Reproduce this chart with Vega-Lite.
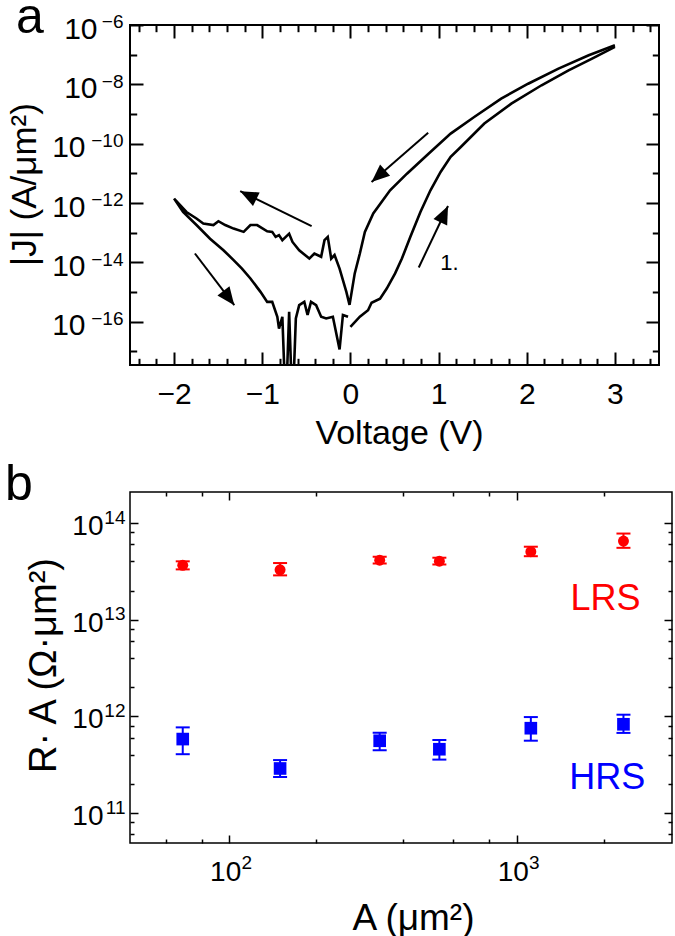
{
  "$schema": "https://vega.github.io/schema/vega-lite/v6.json",
  "background": "white",
  "padding": {"left": 4, "top": -9, "right": 0, "bottom": 0},
  "config": {
    "font": "Liberation Sans",
    "view": {"stroke": "black", "strokeWidth": 2},
    "axis": {"labelFont": "Liberation Sans", "titleFont": "Liberation Sans", "labelColor": "black", "titleColor": "black", "tickColor": "black", "domain": false, "grid": false, "titleFontWeight": "normal", "labelFlush": false, "labelOverlap": false},
    "title": {"font": "Liberation Sans", "fontWeight": "normal", "color": "black"},
    "concat": {"spacing": 8}
  },
  "datasets": {
    "curves": [
      {"b":"F","i":0,"V":0.0,"J":6.76e-17},{"b":"F","i":1,"V":0.107,"J":1.48e-16},{"b":"F","i":2,"V":0.2,"J":2.45e-16},{"b":"F","i":3,"V":0.24,"J":4.37e-16},{"b":"F","i":4,"V":0.336,"J":6.03e-16},{"b":"F","i":5,"V":0.412,"J":1.32e-15},{"b":"F","i":6,"V":0.507,"J":4.27e-15},{"b":"F","i":7,"V":0.584,"J":1.35e-14},{"b":"F","i":8,"V":0.679,"J":7.24e-14},{"b":"F","i":9,"V":0.794,"J":5.01e-13},{"b":"F","i":10,"V":0.908,"J":2.69e-12},{"b":"F","i":11,"V":1.023,"J":1.12e-11},{"b":"F","i":12,"V":1.137,"J":3.63e-11},{"b":"F","i":13,"V":1.252,"J":7.76e-11},{"b":"F","i":14,"V":1.519,"J":4.79e-10},{"b":"F","i":15,"V":1.825,"J":2.24e-9},{"b":"F","i":16,"V":2.168,"J":9.33e-9},{"b":"F","i":17,"V":2.474,"J":2.95e-8},{"b":"F","i":18,"V":2.741,"J":7.41e-8},{"b":"F","i":19,"V":3.0,"J":1.82e-7},
      {"b":"R","i":0,"V":3.0,"J":2.09e-7},{"b":"R","i":1,"V":2.703,"J":9.55e-8},{"b":"R","i":2,"V":2.36,"J":3.39e-8},{"b":"R","i":3,"V":2.016,"J":1.05e-8},{"b":"R","i":4,"V":1.71,"J":3.31e-9},{"b":"R","i":5,"V":1.404,"J":7.94e-10},{"b":"R","i":6,"V":1.137,"J":2.19e-10},{"b":"R","i":7,"V":0.889,"J":4.68e-11},{"b":"R","i":8,"V":0.641,"J":9.77e-12},{"b":"R","i":9,"V":0.45,"J":2.69e-12},{"b":"R","i":10,"V":0.259,"J":4.47e-13},{"b":"R","i":11,"V":0.164,"J":1.07e-13},{"b":"R","i":12,"V":0.107,"J":2.0e-14},{"b":"R","i":13,"V":0.049,"J":4.27e-15},{"b":"R","i":14,"V":-0.01,"J":3.72e-16},
      {"b":"R","i":15,"V":-0.046,"J":1.02e-15},{"b":"R","i":16,"V":-0.123,"J":6.17e-15},{"b":"R","i":17,"V":-0.18,"J":1.78e-14},{"b":"R","i":18,"V":-0.218,"J":1.35e-14},{"b":"R","i":19,"V":-0.257,"J":7.24e-14},{"b":"R","i":20,"V":-0.294,"J":5.62e-14},{"b":"R","i":21,"V":-0.332,"J":1.55e-14},{"b":"R","i":22,"V":-0.409,"J":2.0e-14},{"b":"R","i":23,"V":-0.466,"J":1.35e-14},{"b":"R","i":24,"V":-0.581,"J":2.57e-14},{"b":"R","i":25,"V":-0.657,"J":4.9e-14},{"b":"R","i":26,"V":-0.695,"J":9.33e-14},{"b":"R","i":27,"V":-0.772,"J":5.62e-14},{"b":"R","i":28,"V":-0.81,"J":8.32e-14},{"b":"R","i":29,"V":-0.848,"J":7.24e-14},{"b":"R","i":30,"V":-0.887,"J":1.07e-13},{"b":"R","i":31,"V":-0.944,"J":1.12e-13},{"b":"R","i":32,"V":-1.058,"J":1.82e-13},{"b":"R","i":33,"V":-1.134,"J":1.82e-13},{"b":"R","i":34,"V":-1.211,"J":1.07e-13},{"b":"R","i":35,"V":-1.325,"J":1.38e-13},{"b":"R","i":36,"V":-1.42,"J":1.82e-13},{"b":"R","i":37,"V":-1.497,"J":2.45e-13},{"b":"R","i":38,"V":-1.554,"J":1.82e-13},{"b":"R","i":39,"V":-1.669,"J":2.04e-13},{"b":"R","i":40,"V":-1.746,"J":3.02e-13},{"b":"R","i":41,"V":-1.86,"J":5.01e-13},{"b":"R","i":42,"V":-2.0,"J":1.41e-12},
      {"b":"R","i":43,"V":-1.898,"J":5.01e-13},{"b":"R","i":44,"V":-1.746,"J":1.82e-13},{"b":"R","i":45,"V":-1.592,"J":6.31e-14},{"b":"R","i":46,"V":-1.44,"J":2.57e-14},{"b":"R","i":47,"V":-1.325,"J":1.2e-14},{"b":"R","i":48,"V":-1.23,"J":6.17e-15},{"b":"R","i":49,"V":-1.134,"J":2.88e-15},{"b":"R","i":50,"V":-1.02,"J":1.02e-15},{"b":"R","i":51,"V":-0.944,"J":4.68e-16},{"b":"R","i":52,"V":-0.887,"J":4.68e-16},{"b":"R","i":53,"V":-0.829,"J":1.48e-16},{"b":"R","i":54,"V":-0.81,"J":5.89e-17},{"b":"R","i":55,"V":-0.772,"J":1.48e-16},{"b":"R","i":56,"V":-0.733,"J":1e-19},{"b":"R","i":57,"V":-0.695,"J":2.19e-16},{"b":"R","i":58,"V":-0.657,"J":1e-19},{"b":"R","i":59,"V":-0.619,"J":1.29e-16},{"b":"R","i":60,"V":-0.581,"J":3.63e-16},{"b":"R","i":61,"V":-0.523,"J":4.68e-16},{"b":"R","i":62,"V":-0.486,"J":1.7e-16},{"b":"R","i":63,"V":-0.447,"J":4.68e-16},{"b":"R","i":64,"V":-0.389,"J":3.63e-16},{"b":"R","i":65,"V":-0.332,"J":1.48e-16},{"b":"R","i":66,"V":-0.275,"J":1.29e-16},{"b":"R","i":67,"V":-0.199,"J":1.48e-16},{"b":"R","i":68,"V":-0.123,"J":1.17e-17},{"b":"R","i":69,"V":-0.085,"J":1.7e-16},{"b":"R","i":70,"V":-0.027,"J":1.48e-16}
    ],
    "arrows": [
      {"V1":-0.44,"J1":1.66e-13,"V2":-1.25,"J2":2.51e-12,"angle":296.4},
      {"V1":-1.764,"J1":2.0e-14,"V2":-1.317,"J2":3.63e-16,"angle":142.9},
      {"V1":0.882,"J1":2.34e-10,"V2":0.24,"J2":5.13e-12,"angle":228.6},
      {"V1":0.775,"J1":6.76e-15,"V2":1.107,"J2":7.94e-13,"angle":25.3}
    ],
    "ra": [
      {"state":"LRS","A":68.8,"RA":3.65e13,"lo":3.31e13,"hi":4.01e13},
      {"state":"LRS","A":150,"RA":3.28e13,"lo":2.87e13,"hi":3.85e13},
      {"state":"LRS","A":333,"RA":4.12e13,"lo":3.8e13,"hi":4.47e13},
      {"state":"LRS","A":537,"RA":4.02e13,"lo":3.72e13,"hi":4.37e13},
      {"state":"LRS","A":1117,"RA":5.04e13,"lo":4.53e13,"hi":5.68e13},
      {"state":"LRS","A":2345,"RA":6.5e13,"lo":5.53e13,"hi":7.77e13},
      {"state":"HRS","A":68.8,"RA":5.82e11,"lo":4.06e11,"hi":7.69e11},
      {"state":"HRS","A":150,"RA":2.89e11,"lo":2.36e11,"hi":3.53e11},
      {"state":"HRS","A":333,"RA":5.59e11,"lo":4.46e11,"hi":6.76e11},
      {"state":"HRS","A":537,"RA":4.57e11,"lo":3.57e11,"hi":5.69e11},
      {"state":"HRS","A":1117,"RA":7.54e11,"lo":5.6e11,"hi":9.83e11},
      {"state":"HRS","A":2345,"RA":8.28e11,"lo":6.74e11,"hi":1.04e12}
    ],
    "ralabels": [
      {"state":"LRS","A":1535,"RA":1.25e13},
      {"state":"HRS","A":1519,"RA":1.77e11}
    ]
  },
  "vconcat": [
    {
      "width": 529,
      "height": 340,
      "title": {"text": "a", "anchor": "start", "frame": "group", "fontSize": 50, "baseline": "alphabetic", "offset": -70, "dx": -114},
      "resolve": {"axis": {"x": "independent", "y": "independent"}},
      "layer": [
        {
          "data": {"name": "curves"},
          "transform": [{"filter": "datum.b == 'R'"}],
          "mark": {"type": "line", "color": "black", "strokeWidth": 2.6, "clip": true},
          "encoding": {
            "x": {"field": "V", "type": "quantitative", "scale": {"domain": [-2.5, 3.5], "nice": false, "zero": false},
              "axis": {"orient": "bottom", "values": [-2, -1, 0, 1, 2, 3], "tickSize": -13, "tickWidth": 2, "labelPadding": 27, "labelFontSize": 30, "title": "Voltage (V)", "titleFontSize": 34, "titleX": 269, "titleY": 78, "titleBaseline": "alphabetic", "titleAlign": "center"}},
            "y": {"field": "J", "type": "quantitative", "scale": {"type": "log", "domain": [3.5e-18, 1e-6], "nice": false},
              "axis": {"orient": "left", "values": [1e-16, 1e-14, 1e-12, 1e-10, 1e-8, 1e-6], "labelExpr": "'10'", "labelAlign": "right", "labelOffset": 4, "labelPadding": {"condition": {"test": "datum.value < 1e-9", "value": 58}, "value": 46}, "tickSize": -13, "tickWidth": 2, "labelFontSize": 30, "title": "|J| (A/μm²)", "titleFontSize": 35, "titleX": -95, "titleY": 159, "titleAngle": 270, "titleBaseline": "alphabetic", "titleAlign": "center"}},
            "detail": {"field": "b"},
            "order": {"field": "i", "type": "quantitative"}
          }
        },
        {
          "data": {"name": "arrows"},
          "mark": {"type": "rule", "color": "black", "strokeWidth": 2},
          "encoding": {
            "x": {"field": "V1", "type": "quantitative", "scale": {"domain": [-2.5, 3.5], "nice": false, "zero": false},
              "axis": {"orient": "bottom", "values": [-2.4, -2.2, -1.8, -1.6, -1.4, -1.2, -0.8, -0.6, -0.4, -0.2, 0.2, 0.4, 0.6, 0.8, 1.2, 1.4, 1.6, 1.8, 2.2, 2.4, 2.6, 2.8, 3.2, 3.4], "tickSize": -6.7, "tickWidth": 2, "labels": false, "title": null}},
            "y": {"field": "J1", "type": "quantitative", "scale": {"type": "log", "domain": [3.5e-18, 1e-6], "nice": false},
              "axis": {"orient": "left", "values": [1e-17, 1e-15, 1e-13, 1e-11, 1e-9, 1e-7], "tickSize": -6.7, "tickWidth": 2, "labels": false, "title": null}},
            "x2": {"field": "V2"},
            "y2": {"field": "J2"}
          }
        },
        {
          "data": {"name": "arrows"},
          "mark": {"type": "point", "shape": "M0,0 L0.42,1 L-0.42,1 Z", "filled": true, "color": "black", "opacity": 1, "size": 1296, "strokeWidth": 0},
          "encoding": {
            "x": {"field": "V2", "type": "quantitative", "scale": {"domain": [-2.5, 3.5], "nice": false, "zero": false},
              "axis": {"orient": "top", "values": [-2, -1, 0, 1, 2, 3], "tickSize": -13, "tickWidth": 2, "labels": false, "title": null}},
            "y": {"field": "J2", "type": "quantitative", "scale": {"type": "log", "domain": [3.5e-18, 1e-6], "nice": false},
              "axis": {"orient": "right", "values": [1e-16, 1e-14, 1e-12, 1e-10, 1e-8, 1e-6], "tickSize": -13, "tickWidth": 2, "labels": false, "title": null}},
            "angle": {"field": "angle", "type": "quantitative", "scale": null}
          }
        },
        {
          "data": {"values": [{"V": 1.02, "J": 5.5e-15, "t": "1."}]},
          "mark": {"type": "text", "fontSize": 22, "align": "left", "baseline": "alphabetic", "color": "black", "font": "Liberation Sans"},
          "encoding": {
            "x": {"field": "V", "type": "quantitative", "scale": {"domain": [-2.5, 3.5], "nice": false, "zero": false},
              "axis": {"orient": "top", "values": [-2.4, -2.2, -1.8, -1.6, -1.4, -1.2, -0.8, -0.6, -0.4, -0.2, 0.2, 0.4, 0.6, 0.8, 1.2, 1.4, 1.6, 1.8, 2.2, 2.4, 2.6, 2.8, 3.2, 3.4], "tickSize": -6.7, "tickWidth": 2, "labels": false, "title": null}},
            "y": {"field": "J", "type": "quantitative", "scale": {"type": "log", "domain": [3.5e-18, 1e-6], "nice": false},
              "axis": {"orient": "right", "values": [1e-17, 1e-15, 1e-13, 1e-11, 1e-9, 1e-7], "tickSize": -6.7, "tickWidth": 2, "labels": false, "title": null}},
            "text": {"field": "t"}
          }
        },
        {
          "data": {"name": "curves"},
          "transform": [{"filter": "datum.b == 'F'"}],
          "mark": {"type": "line", "color": "black", "strokeWidth": 2.6, "clip": true},
          "encoding": {
            "x": {"field": "V", "type": "quantitative", "scale": {"domain": [-2.5, 3.5], "nice": false, "zero": false}, "axis": null},
            "y": {"field": "J", "type": "quantitative", "scale": {"type": "log", "domain": [3.5e-18, 1e-6], "nice": false},
              "axis": {"orient": "left", "values": [1e-16, 1e-14, 1e-12, 1e-10, 1e-8, 1e-6], "labelExpr": "datum.value < 1e-15 ? '−16' : datum.value < 1e-13 ? '−14' : datum.value < 1e-11 ? '−12' : datum.value < 1e-9 ? '−10' : datum.value < 1e-7 ? '−8' : '−6'", "labelAlign": "right", "labelOffset": -3.3, "labelPadding": 20, "tickSize": -13, "tickOpacity": 0, "labelFontSize": 19, "title": null}},
            "order": {"field": "i", "type": "quantitative"}
          }
        }
      ]
    },
    {
      "width": 542,
      "height": 351,
      "view": {"stroke": "black", "strokeWidth": 1.5},
      "title": {"text": "b", "anchor": "start", "frame": "group", "fontSize": 50, "baseline": "alphabetic", "offset": -59, "dx": -125},
      "resolve": {"axis": {"x": "independent", "y": "independent"}},
      "layer": [
        {
          "data": {"name": "ra"},
          "transform": [{"filter": "datum.state == 'LRS'"}],
          "mark": {"type": "point", "shape": "circle", "filled": true, "opacity": 1, "size": 120, "strokeWidth": 0},
          "encoding": {
            "x": {"field": "A", "type": "quantitative", "scale": {"type": "log", "domain": [45.1, 3459], "nice": false},
              "axis": {"orient": "bottom", "values": [100, 1000], "labelExpr": "'10'", "labelAlign": "center", "labelOffset": -4.3, "tickSize": -8, "tickWidth": 1.5, "labelPadding": 23, "labelFontSize": 28, "title": "A (μm²)", "titleFontSize": 37, "titleX": 283, "titleY": 86, "titleBaseline": "alphabetic", "titleAlign": "center"}},
            "y": {"field": "RA", "type": "quantitative", "scale": {"type": "log", "domain": [4.9e10, 2.09e14], "nice": false},
              "axis": {"orient": "left", "values": [1e11, 1e12, 1e13, 1e14], "labelExpr": "'10'", "labelAlign": "right", "labelOffset": 3.6, "tickSize": -8, "tickWidth": 1.5, "labelPadding": 35, "labelFontSize": 28, "title": "R· A (Ω·μm²)", "titleFontSize": 38, "titleX": -75, "titleY": 173, "titleAngle": 270, "titleBaseline": "alphabetic", "titleAlign": "center"}},
            "color": {"field": "state", "type": "nominal", "scale": {"domain": ["LRS", "HRS"], "range": ["#ff0000", "#0000ff"]}, "legend": null}
          }
        },
        {
          "data": {"name": "ra"},
          "transform": [{"filter": "datum.state == 'HRS'"}],
          "mark": {"type": "point", "shape": "square", "filled": true, "opacity": 1, "size": 160, "strokeWidth": 0},
          "encoding": {
            "x": {"field": "A", "type": "quantitative", "scale": {"type": "log", "domain": [45.1, 3459], "nice": false},
              "axis": {"orient": "bottom", "values": [60, 80, 200, 400, 600, 800, 2000], "tickSize": -4, "tickWidth": 1.5, "labels": false, "title": null}},
            "y": {"field": "RA", "type": "quantitative", "scale": {"type": "log", "domain": [4.9e10, 2.09e14], "nice": false},
              "axis": {"orient": "left", "values": [6e10, 8e10, 2e11, 4e11, 6e11, 8e11, 2e12, 4e12, 6e12, 8e12, 2e13, 4e13, 6e13, 8e13], "tickSize": -4, "tickWidth": 1.5, "labels": false, "title": null}},
            "color": {"field": "state", "type": "nominal", "scale": {"domain": ["LRS", "HRS"], "range": ["#ff0000", "#0000ff"]}, "legend": null}
          }
        },
        {
          "data": {"name": "ra"},
          "mark": {"type": "rule", "strokeWidth": 2},
          "encoding": {
            "x": {"field": "A", "type": "quantitative", "scale": {"type": "log", "domain": [45.1, 3459], "nice": false},
              "axis": {"orient": "top", "values": [100, 1000], "tickSize": -8, "tickWidth": 1.5, "labels": false, "title": null}},
            "y": {"field": "lo", "type": "quantitative", "scale": {"type": "log", "domain": [4.9e10, 2.09e14], "nice": false},
              "axis": {"orient": "right", "values": [1e11, 1e12, 1e13, 1e14], "tickSize": -8, "tickWidth": 1.5, "labels": false, "title": null}},
            "y2": {"field": "hi"},
            "color": {"field": "state", "type": "nominal", "scale": {"domain": ["LRS", "HRS"], "range": ["#ff0000", "#0000ff"]}, "legend": null}
          }
        },
        {
          "data": {"name": "ra"},
          "mark": {"type": "tick", "orient": "horizontal", "size": 14, "thickness": 2, "opacity": 1},
          "encoding": {
            "x": {"field": "A", "type": "quantitative", "scale": {"type": "log", "domain": [45.1, 3459], "nice": false},
              "axis": {"orient": "top", "values": [60, 80, 200, 400, 600, 800, 2000], "tickSize": -4, "tickWidth": 1.5, "labels": false, "title": null}},
            "y": {"field": "lo", "type": "quantitative", "scale": {"type": "log", "domain": [4.9e10, 2.09e14], "nice": false},
              "axis": {"orient": "right", "values": [6e10, 8e10, 2e11, 4e11, 6e11, 8e11, 2e12, 4e12, 6e12, 8e12, 2e13, 4e13, 6e13, 8e13], "tickSize": -4, "tickWidth": 1.5, "labels": false, "title": null}},
            "color": {"field": "state", "type": "nominal", "scale": {"domain": ["LRS", "HRS"], "range": ["#ff0000", "#0000ff"]}, "legend": null}
          }
        },
        {
          "data": {"name": "ra"},
          "mark": {"type": "tick", "orient": "horizontal", "size": 14, "thickness": 2, "opacity": 1},
          "encoding": {
            "x": {"field": "A", "type": "quantitative", "scale": {"type": "log", "domain": [45.1, 3459], "nice": false},
              "axis": {"orient": "bottom", "values": [100, 1000], "labelExpr": "datum.value < 500 ? '2' : '3'", "labelAlign": "left", "labelOffset": 11.5, "tickSize": -8, "tickOpacity": 0, "labelPadding": 18.6, "labelFontSize": 19, "title": null}},
            "y": {"field": "hi", "type": "quantitative", "scale": {"type": "log", "domain": [4.9e10, 2.09e14], "nice": false},
              "axis": {"orient": "left", "values": [1e11, 1e12, 1e13, 1e14], "labelExpr": "datum.value < 5e11 ? '11' : datum.value < 5e12 ? '12' : datum.value < 5e13 ? '13' : '14'", "labelAlign": "right", "labelOffset": -5.9, "tickSize": -8, "tickOpacity": 0, "labelPadding": 13, "labelFontSize": 19, "title": null}},
            "color": {"field": "state", "type": "nominal", "scale": {"domain": ["LRS", "HRS"], "range": ["#ff0000", "#0000ff"]}, "legend": null}
          }
        },
        {
          "data": {"name": "ralabels"},
          "mark": {"type": "text", "fontSize": 36, "align": "left", "baseline": "alphabetic", "font": "Liberation Sans"},
          "encoding": {
            "x": {"field": "A", "type": "quantitative", "scale": {"type": "log", "domain": [45.1, 3459], "nice": false}, "axis": null},
            "y": {"field": "RA", "type": "quantitative", "scale": {"type": "log", "domain": [4.9e10, 2.09e14], "nice": false}, "axis": null},
            "text": {"field": "state"},
            "color": {"field": "state", "type": "nominal", "scale": {"domain": ["LRS", "HRS"], "range": ["#ff0000", "#0000ff"]}, "legend": null}
          }
        }
      ]
    }
  ]
}
